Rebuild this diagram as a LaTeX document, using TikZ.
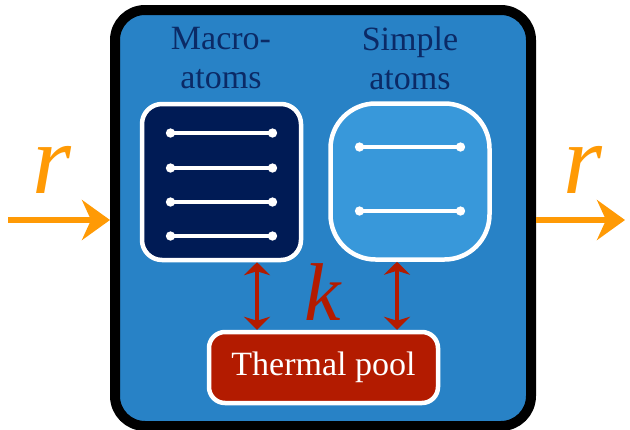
\documentclass[tikz,border=0pt]{standalone}
\usepackage{fontspec}
\setmainfont{Liberation Serif}
\usetikzlibrary{arrows.meta}
\definecolor{cellblue}{HTML}{2882C6}
\definecolor{macronavy}{HTML}{001B55}
\definecolor{simpleblue}{HTML}{3898DA}
\definecolor{labelnavy}{HTML}{0B2A66}
\definecolor{poolred}{HTML}{B31B00}
\definecolor{rayorange}{HTML}{FF9A05}
\tikzset{
  atombox/.style={draw=white, line width=4.5pt, minimum width=159pt, minimum height=156pt},
  level/.style={white, line width=4pt, {Circle[length=9pt]}-{Circle[length=9pt]}},
  exch/.style={poolred, line width=3.5pt, {Stealth[length=13pt,width=26pt,inset=4pt]}-{Stealth[length=13pt,width=26pt,inset=4pt]}},
  ray/.style={rayorange, line width=6pt, -{Stealth[length=28pt,width=40pt,inset=9pt]}},
  caption/.style={labelnavy, font=\fontsize{34}{39}\selectfont, align=center}
}

\begin{document}
\begin{tikzpicture}[x=1pt,y=-1pt]
  \useasboundingbox (0,0) rectangle (630,429);
  % Outer Box
  \node (cell) [draw=black, fill=cellblue, line width=10pt, rounded corners=30pt, minimum width=416pt, minimum height=416pt] at (323,218) {};
  %Macro-atoms
  \node (macro) [atombox, fill=macronavy, rounded corners=20pt] at (221.5,182) {};
  \foreach \y in {133,168,202,236} \draw[level] (166,\y) -- (277,\y);
  \node (macrolabel) [caption] at (221,58) {Macro-\\atoms};
  %Simple atoms
  \node (simple) [atombox, fill=simpleblue, rounded corners=45pt] at (410,181.5) {};
  \foreach \y in {147,211} \draw[level] (355,\y) -- (465,\y);
  \node (simplelabel) [caption] at (410,58) {Simple\\atoms};
  %Thermal pool
  \node (pool) [draw=white, line width=4.5pt, fill=poolred, rounded corners=16pt, minimum width=229pt, minimum height=71pt, text=white, font=\fontsize{34}{40}\selectfont] at (323.5,367.5) {Thermal pool};
  \coordinate (lft) at (257,0);
  \coordinate (rgt) at (397,0);
  \draw[exch] (macro.south -| lft) -- (pool.north -| lft);
  \draw[exch] (simple.south -| rgt) -- (pool.north -| rgt);
  \node (k) [poolred, font=\fontsize{82}{82}\selectfont\itshape, anchor=base] at (323,320) {k};
  %Radiation in and out
  \coordinate (rin) at (8,220);
  \coordinate (rout) at (625,220);
  \draw[ray] (rin) -- (rin -| cell.west);
  \draw[ray] (rout -| cell.east) -- (rout);
  \node (rleft) [rayorange, font=\fontsize{100}{100}\selectfont\itshape, anchor=base] at (52,193) {r};
  \node (rright) [rayorange, font=\fontsize{100}{100}\selectfont\itshape, anchor=base] at (583,193) {r};
\end{tikzpicture}
\end{document}
